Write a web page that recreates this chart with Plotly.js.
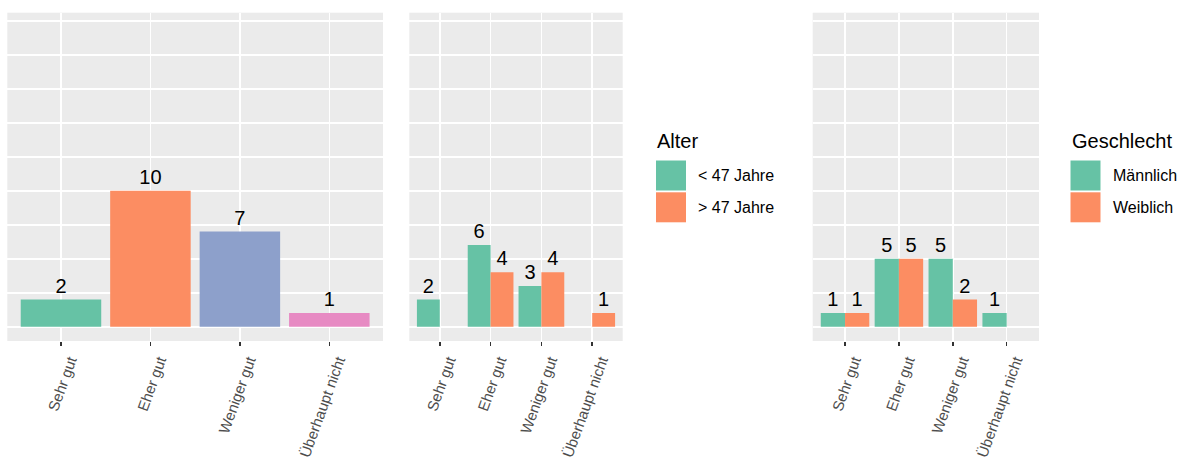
<!DOCTYPE html>
<html>
<head>
<meta charset="utf-8">
<script src="https://cdn.plot.ly/plotly-3.0.1.min.js"></script>
<style>html,body{margin:0;padding:0;background:#fff;}#chart{width:1184px;height:460px;}</style>
</head>
<body>
<div id="chart"></div>
<script>
// ---- data ----
const categories = ['Sehr gut', 'Eher gut', 'Weniger gut', 'Überhaupt nicht'];
const overallCounts = [2, 10, 7, 1];
const categoryColors = ['#66C2A5', '#FC8D62', '#8DA0CB', '#E78AC3'];

const alterTitle = 'Alter';
const alterLabels = ['< 47 Jahre', '> 47 Jahre'];
const alterUnder47 = [2, 6, 3, null];
const alterOver47 = [null, 4, 4, 1];

const geschlechtTitle = 'Geschlecht';
const geschlechtLabels = ['Männlich', 'Weiblich'];
const maennlich = [1, 5, 5, 1];
const weiblich = [1, 5, 2, null];

const groupColors = ['#66C2A5', '#FC8D62'];

// ---- helpers ----
const W = 1184, H = 460;
const px = x => x / W;
const py = y => 1 - y / H;
const FONT = 'Liberation Sans, Arial, Helvetica, sans-serif';

function barTrace(y, color, xa, ya, name) {
  return {
    type: 'bar', x: categories, y: y, name: name,
    xaxis: xa, yaxis: ya,
    marker: {color: color, line: {width: 0}},
    text: y.map(v => v == null ? '' : String(v)),
    texttemplate: '%{text}',
    textposition: 'outside',
    textfont: {family: FONT, size: 20, color: '#000000'},
    cliponaxis: false,
    showlegend: false,
    hoverinfo: 'x+y+name'
  };
}

const traces = [
  barTrace(overallCounts, categoryColors, 'x', 'y', 'Gesamt'),
  barTrace(alterUnder47, groupColors[0], 'x2', 'y2', alterLabels[0]),
  barTrace(alterOver47, groupColors[1], 'x2', 'y2', alterLabels[1]),
  barTrace(maennlich, groupColors[0], 'x3', 'y3', geschlechtLabels[0]),
  barTrace(weiblich, groupColors[1], 'x3', 'y3', geschlechtLabels[1])
];

function xAxis(d0, d1, anchor) {
  return {
    domain: [px(d0), px(d1)], anchor: anchor,
    type: 'category', range: [-0.6, 3.6],
    showgrid: true, gridcolor: '#FFFFFF', gridwidth: 1.6,
    zeroline: false, showline: false,
    ticks: 'outside', ticklen: 4, tickwidth: 1.5, tickcolor: '#333333',
    tickangle: -70,
    ticklabelshift: 9,
    ticklabelstandoff: 0,
    tickfont: {family: FONT, size: 15, color: '#4D4D4D'},
    automargin: false, fixedrange: true
  };
}
function yAxis(anchor) {
  return {
    domain: [py(341), py(12.7)], anchor: anchor,
    range: [-1.05, 23.09], tick0: 0, dtick: 2.5,
    showgrid: true, gridcolor: '#FFFFFF', gridwidth: 1.6,
    zeroline: false, showline: false, showticklabels: false, ticks: '',
    automargin: false, fixedrange: true
  };
}

// ---- custom legends (ggplot-style key boxes) ----
const shapes = [];
const annotations = [];
function addLegend(title, labels, x0) {
  annotations.push({
    xref: 'paper', yref: 'paper', x: px(x0 - 1), y: py(141),
    xanchor: 'left', yanchor: 'middle', showarrow: false,
    text: title, font: {family: FONT, size: 20, color: '#000000'}
  });
  labels.forEach((lab, i) => {
    const top = 160.5 + i * 31.8;
    shapes.push({
      type: 'rect', xref: 'paper', yref: 'paper',
      x0: px(x0), x1: px(x0 + 30), y0: py(top + 30), y1: py(top),
      fillcolor: groupColors[i], line: {width: 0}, layer: 'above'
    });
    annotations.push({
      xref: 'paper', yref: 'paper', x: px(x0 + 40), y: py(top + 15),
      xanchor: 'left', yanchor: 'middle', showarrow: false,
      text: lab, font: {family: FONT, size: 16, color: '#000000'}
    });
  });
}
addLegend(alterTitle, alterLabels, 656);
addLegend(geschlechtTitle, geschlechtLabels, 1070.5);

const layout = {
  width: W, height: H,
  margin: {l: 0, r: 0, t: 0, b: 0, pad: 0},
  paper_bgcolor: '#FFFFFF', plot_bgcolor: '#EBEBEB',
  barmode: 'group', bargap: 0.1, bargroupgap: 0,
  showlegend: false,
  font: {family: FONT},
  xaxis: xAxis(7.3, 383, 'y'),
  xaxis2: xAxis(409.3, 622.7, 'y2'),
  xaxis3: xAxis(812.7, 1039, 'y3'),
  yaxis: yAxis('x'),
  yaxis2: yAxis('x2'),
  yaxis3: yAxis('x3'),
  shapes: shapes,
  annotations: annotations
};

Plotly.newPlot('chart', traces, layout, {displayModeBar: false, staticPlot: true});
</script>
</body>
</html>
